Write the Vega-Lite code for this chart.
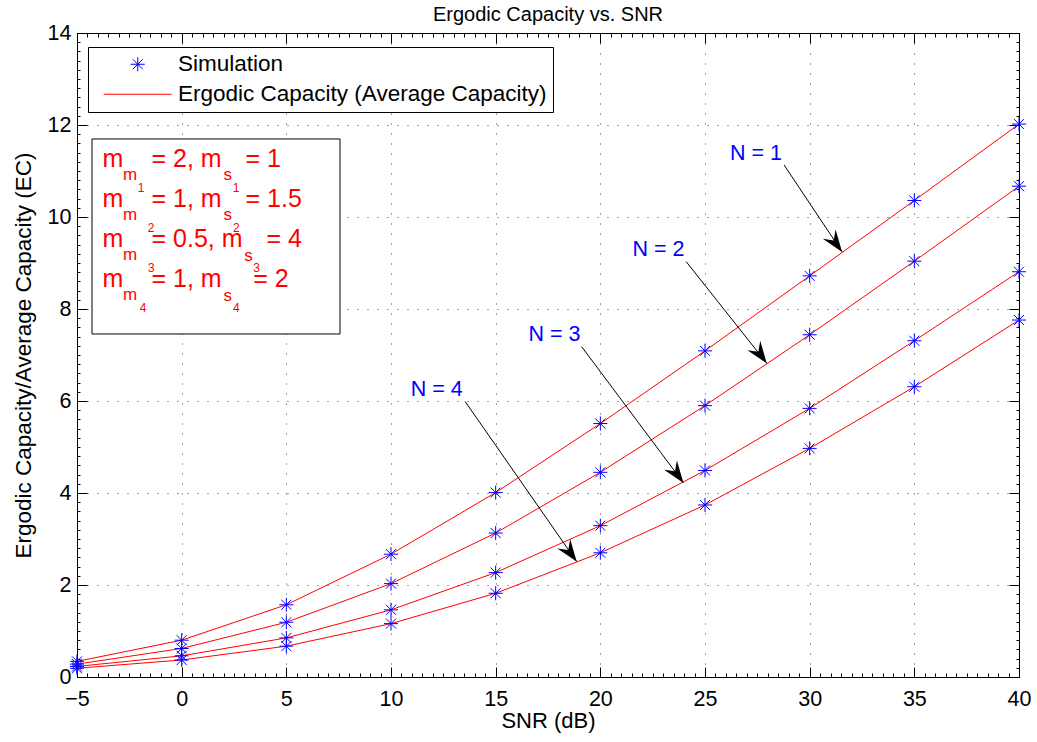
{
  "$schema": "https://vega.github.io/schema/vega-lite/v6.json",
  "width": 942,
  "height": 644,
  "autosize": {"type": "none"},
  "padding": {"left": 77, "top": 33, "right": 18, "bottom": 65},
  "background": "white",
  "title": {"text": "Ergodic Capacity vs. SNR", "fontSize": 20, "font": "Liberation Sans", "fontWeight": "normal", "color": "#000", "offset": -3},
  "config": {
    "font": "Liberation Sans",
    "view": {"stroke": "#000", "strokeWidth": 1},
    "axis": {"tickColor": "#000", "tickWidth": 1, "domainColor": "#000", "labelColor": "#000", "titleColor": "#000", "labelFont": "Liberation Sans", "titleFont": "Liberation Sans"},
    "legend": {"orient": "none", "legendX": 11, "legendY": 14, "padding": 6, "strokeColor": "#000", "fillColor": "#fff", "labelFontSize": 22.5, "labelFont": "Liberation Sans", "labelColor": "#000", "symbolSize": 400, "symbolStrokeWidth": 1, "symbolOffset": 32.5, "labelOffset": 29, "rowPadding": 7, "labelLimit": 600, "cornerRadius": 0}
  },
  "resolve": {"axis": {"x": "independent", "y": "independent"}},
  "datasets": {
    "cap": [
      {"N": 1, "snr": -5, "ec": 0.34}, {"N": 1, "snr": 0, "ec": 0.8}, {"N": 1, "snr": 5, "ec": 1.57}, {"N": 1, "snr": 10, "ec": 2.67}, {"N": 1, "snr": 15, "ec": 4.01}, {"N": 1, "snr": 20, "ec": 5.51}, {"N": 1, "snr": 25, "ec": 7.09}, {"N": 1, "snr": 30, "ec": 8.72}, {"N": 1, "snr": 35, "ec": 10.36}, {"N": 1, "snr": 40, "ec": 12.02},
      {"N": 2, "snr": -5, "ec": 0.28}, {"N": 2, "snr": 0, "ec": 0.62}, {"N": 2, "snr": 5, "ec": 1.19}, {"N": 2, "snr": 10, "ec": 2.03}, {"N": 2, "snr": 15, "ec": 3.13}, {"N": 2, "snr": 20, "ec": 4.45}, {"N": 2, "snr": 25, "ec": 5.9}, {"N": 2, "snr": 30, "ec": 7.44}, {"N": 2, "snr": 35, "ec": 9.04}, {"N": 2, "snr": 40, "ec": 10.67},
      {"N": 3, "snr": -5, "ec": 0.23}, {"N": 3, "snr": 0, "ec": 0.46}, {"N": 3, "snr": 5, "ec": 0.85}, {"N": 3, "snr": 10, "ec": 1.46}, {"N": 3, "snr": 15, "ec": 2.27}, {"N": 3, "snr": 20, "ec": 3.29}, {"N": 3, "snr": 25, "ec": 4.49}, {"N": 3, "snr": 30, "ec": 5.84}, {"N": 3, "snr": 35, "ec": 7.31}, {"N": 3, "snr": 40, "ec": 8.81},
      {"N": 4, "snr": -5, "ec": 0.19}, {"N": 4, "snr": 0, "ec": 0.37}, {"N": 4, "snr": 5, "ec": 0.67}, {"N": 4, "snr": 10, "ec": 1.16}, {"N": 4, "snr": 15, "ec": 1.82}, {"N": 4, "snr": 20, "ec": 2.7}, {"N": 4, "snr": 25, "ec": 3.74}, {"N": 4, "snr": 30, "ec": 4.97}, {"N": 4, "snr": 35, "ec": 6.31}, {"N": 4, "snr": 40, "ec": 7.76}
    ],
    "labels": [
      {"label": "N = 1", "snr": 27.44, "ec": 11.24},
      {"label": "N = 2", "snr": 22.78, "ec": 9.15},
      {"label": "N = 3", "snr": 17.81, "ec": 7.31},
      {"label": "N = 4", "snr": 12.18, "ec": 6.11}
    ],
    "arrows": [
      {"N": 1, "snr": 28.78, "ec": 11.13, "snr2": 31.55, "ec2": 9.24},
      {"N": 2, "snr": 24.1, "ec": 9.03, "snr2": 27.95, "ec2": 6.82},
      {"N": 3, "snr": 19.11, "ec": 7.18, "snr2": 23.97, "ec2": 4.22},
      {"N": 4, "snr": 13.54, "ec": 5.99, "snr2": 18.87, "ec2": 2.51}
    ],
    "box": [{"snr": -4.283, "ec": 11.696, "snr2": 7.564, "ec2": 7.457}],
    "paramMain": [
      {"t": "m", "snr": -3.78, "ec": 11.093}, {"t": "= 2, m", "snr": -1.44, "ec": 11.093}, {"t": "= 1", "snr": 3.05, "ec": 11.093},
      {"t": "m", "snr": -3.78, "ec": 10.224}, {"t": "= 1, m", "snr": -1.44, "ec": 10.224}, {"t": "= 1.5", "snr": 3.05, "ec": 10.224},
      {"t": "m", "snr": -3.78, "ec": 9.354}, {"t": "= 0.5, m", "snr": -1.44, "ec": 9.354}, {"t": "= 4", "snr": 4.05, "ec": 9.354},
      {"t": "m", "snr": -3.78, "ec": 8.485}, {"t": "= 1, m", "snr": -1.44, "ec": 8.485}, {"t": "= 2", "snr": 3.42, "ec": 8.485}
    ],
    "paramSub": [
      {"t": "m", "snr": -2.8, "ec": 10.804}, {"t": "s", "snr": 2.0, "ec": 10.804},
      {"t": "m", "snr": -2.8, "ec": 9.935}, {"t": "s", "snr": 2.0, "ec": 9.935},
      {"t": "m", "snr": -2.8, "ec": 9.065}, {"t": "s", "snr": 2.99, "ec": 9.05},
      {"t": "m", "snr": -2.8, "ec": 8.196}, {"t": "s", "snr": 2.0, "ec": 8.18}
    ],
    "paramSubSub": [
      {"t": "1", "snr": -1.94, "ec": 10.55}, {"t": "1", "snr": 2.6, "ec": 10.55},
      {"t": "2", "snr": -1.465, "ec": 9.68}, {"t": "2", "snr": 2.61, "ec": 9.68},
      {"t": "3", "snr": -1.451, "ec": 8.811}, {"t": "3", "snr": 3.584, "ec": 8.811},
      {"t": "4", "snr": -1.847, "ec": 7.941}, {"t": "4", "snr": 2.61, "ec": 7.941}
    ]
  },
  "layer": [
    {
      "data": {"name": "cap"},
      "mark": {"type": "line", "color": "#ff0000", "strokeWidth": 1},
      "encoding": {
        "x": {"field": "snr", "type": "quantitative", "scale": {"domain": [-5, 40], "nice": false, "zero": false},
          "axis": {"orient": "bottom", "values": [-5, 0, 5, 10, 15, 20, 25, 30, 35, 40], "ticks": false, "grid": true, "gridDash": [1, 9], "gridColor": "#000", "gridOpacity": 0.75, "gridWidth": 1, "domain": true, "labelFontSize": 21.5, "labelPadding": 11, "labelFlush": false, "title": "SNR (dB)", "titleFontSize": 22, "titleFontWeight": "normal", "titlePadding": 1}},
        "y": {"field": "ec", "type": "quantitative", "scale": {"domain": [0, 14], "nice": false, "zero": false},
          "axis": {"orient": "left", "values": [0, 2, 4, 6, 8, 10, 12, 14], "ticks": false, "grid": true, "gridDash": [1, 9], "gridColor": "#000", "gridOpacity": 0.75, "gridWidth": 1, "domain": true, "labelFontSize": 21.5, "labelPadding": 6, "labelFlush": false, "title": "Ergodic Capacity/Average Capacity (EC)", "titleFontSize": 22.5, "titleFontWeight": "normal", "titlePadding": 12}},
        "detail": {"field": "N", "type": "nominal"}
      }
    },
    {
      "data": {"name": "cap"},
      "mark": {"type": "point", "filled": false, "size": 400, "strokeWidth": 1, "opacity": 1},
      "encoding": {
        "x": {"field": "snr", "type": "quantitative", "scale": {"domain": [-5, 40], "nice": false, "zero": false},
          "axis": {"orient": "bottom", "values": [-5, -4.5, -4, -3.5, -3, -2.5, -2, -1.5, -1, -0.5, 0, 0.5, 1, 1.5, 2, 2.5, 3, 3.5, 4, 4.5, 5, 5.5, 6, 6.5, 7, 7.5, 8, 8.5, 9, 9.5, 10, 10.5, 11, 11.5, 12, 12.5, 13, 13.5, 14, 14.5, 15, 15.5, 16, 16.5, 17, 17.5, 18, 18.5, 19, 19.5, 20, 20.5, 21, 21.5, 22, 22.5, 23, 23.5, 24, 24.5, 25, 25.5, 26, 26.5, 27, 27.5, 28, 28.5, 29, 29.5, 30, 30.5, 31, 31.5, 32, 32.5, 33, 33.5, 34, 34.5, 35, 35.5, 36, 36.5, 37, 37.5, 38, 38.5, 39, 39.5, 40], "labels": false, "grid": false, "domain": false, "tickSize": -4, "title": null}},
        "y": {"field": "ec", "type": "quantitative", "scale": {"domain": [0, 14], "nice": false, "zero": false},
          "axis": {"orient": "left", "values": [0, 0.2, 0.4, 0.6, 0.8, 1, 1.2, 1.4, 1.6, 1.8, 2, 2.2, 2.4, 2.6, 2.8, 3, 3.2, 3.4, 3.6, 3.8, 4, 4.2, 4.4, 4.6, 4.8, 5, 5.2, 5.4, 5.6, 5.8, 6, 6.2, 6.4, 6.6, 6.8, 7, 7.2, 7.4, 7.6, 7.8, 8, 8.2, 8.4, 8.6, 8.8, 9, 9.2, 9.4, 9.6, 9.8, 10, 10.2, 10.4, 10.6, 10.8, 11, 11.2, 11.4, 11.6, 11.8, 12, 12.2, 12.4, 12.6, 12.8, 13, 13.2, 13.4, 13.6, 13.8, 14], "labels": false, "grid": false, "domain": false, "tickSize": -3, "title": null}},
        "color": {"datum": "Simulation", "type": "nominal", "scale": {"domain": ["Simulation", "Ergodic Capacity (Average Capacity)"], "range": ["#0000ff", "#ff0000"]}, "legend": {"title": null}},
        "shape": {"datum": "Simulation", "type": "nominal", "scale": {"domain": ["Simulation", "Ergodic Capacity (Average Capacity)"], "range": ["M0,-0.7L0,0.7M-0.7,0L0.7,0M-0.5,-0.5L0.5,0.5M-0.5,0.5L0.5,-0.5", "M-3.4,0L3.4,0"]}, "legend": {"title": null}}
      }
    },
    {
      "data": {"name": "box"},
      "mark": {"type": "rect", "fill": "#ffffff", "stroke": "#000000", "strokeWidth": 1},
      "encoding": {
        "x": {"field": "snr", "type": "quantitative", "scale": {"domain": [-5, 40], "nice": false, "zero": false}, "axis": null},
        "x2": {"field": "snr2"},
        "y": {"field": "ec", "type": "quantitative", "scale": {"domain": [0, 14], "nice": false, "zero": false}, "axis": null},
        "y2": {"field": "ec2"}
      }
    },
    {
      "data": {"name": "paramMain"},
      "mark": {"type": "text", "color": "#ff0000", "fontSize": 25, "align": "left", "baseline": "alphabetic"},
      "encoding": {
        "x": {"field": "snr", "type": "quantitative", "scale": {"domain": [-5, 40], "nice": false, "zero": false}, "axis": null},
        "y": {"field": "ec", "type": "quantitative", "scale": {"domain": [0, 14], "nice": false, "zero": false}, "axis": null},
        "text": {"field": "t"}
      }
    },
    {
      "data": {"name": "paramSub"},
      "mark": {"type": "text", "color": "#ff0000", "fontSize": 17, "align": "left", "baseline": "alphabetic"},
      "encoding": {
        "x": {"field": "snr", "type": "quantitative", "scale": {"domain": [-5, 40], "nice": false, "zero": false}, "axis": null},
        "y": {"field": "ec", "type": "quantitative", "scale": {"domain": [0, 14], "nice": false, "zero": false}, "axis": null},
        "text": {"field": "t"}
      }
    },
    {
      "data": {"name": "paramSubSub"},
      "mark": {"type": "text", "color": "#ff0000", "fontSize": 12, "align": "center", "baseline": "alphabetic"},
      "encoding": {
        "x": {"field": "snr", "type": "quantitative", "scale": {"domain": [-5, 40], "nice": false, "zero": false}, "axis": null},
        "y": {"field": "ec", "type": "quantitative", "scale": {"domain": [0, 14], "nice": false, "zero": false}, "axis": null},
        "text": {"field": "t"}
      }
    },
    {
      "data": {"name": "labels"},
      "mark": {"type": "text", "color": "#0000ff", "fontSize": 21.5, "align": "center", "baseline": "alphabetic"},
      "encoding": {
        "x": {"field": "snr", "type": "quantitative", "scale": {"domain": [-5, 40], "nice": false, "zero": false},
          "axis": {"orient": "bottom", "values": [-5, 0, 5, 10, 15, 20, 25, 30, 35, 40], "labels": false, "grid": false, "domain": false, "tickSize": -10, "title": null}},
        "y": {"field": "ec", "type": "quantitative", "scale": {"domain": [0, 14], "nice": false, "zero": false},
          "axis": {"orient": "left", "values": [0, 2, 4, 6, 8, 10, 12, 14], "labels": false, "grid": false, "domain": false, "tickSize": -10, "title": null}},
        "text": {"field": "label"}
      }
    },
    {
      "data": {"name": "arrows"},
      "mark": {"type": "rule", "color": "#000000", "strokeWidth": 1},
      "encoding": {
        "x": {"field": "snr", "type": "quantitative", "scale": {"domain": [-5, 40], "nice": false, "zero": false},
          "axis": {"orient": "top", "values": [-5, 0, 5, 10, 15, 20, 25, 30, 35, 40], "labels": false, "grid": false, "domain": false, "tickSize": -10, "title": null}},
        "x2": {"field": "snr2"},
        "y": {"field": "ec", "type": "quantitative", "scale": {"domain": [0, 14], "nice": false, "zero": false},
          "axis": {"orient": "right", "values": [0, 2, 4, 6, 8, 10, 12, 14], "labels": false, "grid": false, "domain": false, "tickSize": -10, "title": null}},
        "y2": {"field": "ec2"}
      }
    },
    {
      "data": {"name": "arrows"},
      "mark": {"type": "point", "shape": "M0,0L0.36,1L0,0.65L-0.36,1Z", "filled": true, "color": "#000000", "size": 1936, "angle": 144, "opacity": 1, "strokeWidth": 0},
      "encoding": {
        "x": {"field": "snr2", "type": "quantitative", "scale": {"domain": [-5, 40], "nice": false, "zero": false},
          "axis": {"orient": "top", "values": [-5, -4.5, -4, -3.5, -3, -2.5, -2, -1.5, -1, -0.5, 0, 0.5, 1, 1.5, 2, 2.5, 3, 3.5, 4, 4.5, 5, 5.5, 6, 6.5, 7, 7.5, 8, 8.5, 9, 9.5, 10, 10.5, 11, 11.5, 12, 12.5, 13, 13.5, 14, 14.5, 15, 15.5, 16, 16.5, 17, 17.5, 18, 18.5, 19, 19.5, 20, 20.5, 21, 21.5, 22, 22.5, 23, 23.5, 24, 24.5, 25, 25.5, 26, 26.5, 27, 27.5, 28, 28.5, 29, 29.5, 30, 30.5, 31, 31.5, 32, 32.5, 33, 33.5, 34, 34.5, 35, 35.5, 36, 36.5, 37, 37.5, 38, 38.5, 39, 39.5, 40], "labels": false, "grid": false, "domain": false, "tickSize": -4, "title": null}},
        "y": {"field": "ec2", "type": "quantitative", "scale": {"domain": [0, 14], "nice": false, "zero": false},
          "axis": {"orient": "right", "values": [0, 0.2, 0.4, 0.6, 0.8, 1, 1.2, 1.4, 1.6, 1.8, 2, 2.2, 2.4, 2.6, 2.8, 3, 3.2, 3.4, 3.6, 3.8, 4, 4.2, 4.4, 4.6, 4.8, 5, 5.2, 5.4, 5.6, 5.8, 6, 6.2, 6.4, 6.6, 6.8, 7, 7.2, 7.4, 7.6, 7.8, 8, 8.2, 8.4, 8.6, 8.8, 9, 9.2, 9.4, 9.6, 9.8, 10, 10.2, 10.4, 10.6, 10.8, 11, 11.2, 11.4, 11.6, 11.8, 12, 12.2, 12.4, 12.6, 12.8, 13, 13.2, 13.4, 13.6, 13.8, 14], "labels": false, "grid": false, "domain": false, "tickSize": -3, "title": null}}
      }
    }
  ]
}
